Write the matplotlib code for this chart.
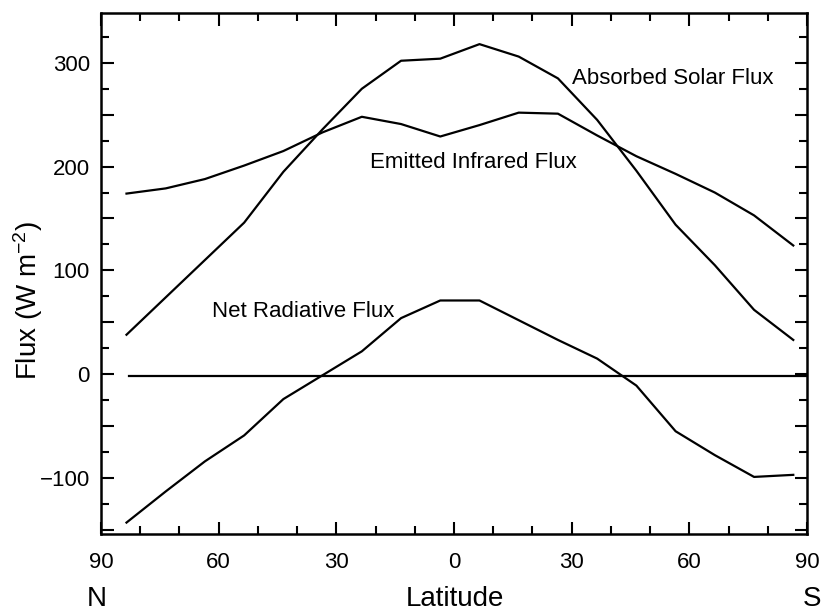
import matplotlib
matplotlib.use('Agg')
import matplotlib.pyplot as plt
from matplotlib.ticker import MultipleLocator, FuncFormatter

plt.rcParams['font.family'] = ['Liberation Sans', 'DejaVu Sans']
plt.rcParams['mathtext.fontset'] = 'custom'
plt.rcParams['mathtext.rm'] = 'Liberation Sans'
plt.rcParams['mathtext.it'] = 'Liberation Sans'

# latitude of the zonal bands (negative = north, as drawn left to right N -> S)
lat = [-83.5, -73.5, -63.5, -53.5, -43.5, -33.5, -23.5, -13.5, -3.5,
       6.5, 16.5, 26.5, 36.5, 46.5, 56.5, 66.5, 76.5, 86.5]
solar = [38, 74, 110, 146, 195, 236, 275, 302, 304,
         318, 306, 285, 245, 196, 144, 105, 62, 33]
infrared = [174, 179, 188, 201, 215, 233, 248, 241, 229,
            240, 252, 251, 230, 210, 193, 175, 153, 124]
net = [-143, -113, -84, -59, -24, -1, 22, 54, 71,
       71, 52, 33, 15, -11, -55, -78, -99, -97]
zero_lat = [-82.8, 90]
zero_val = [-2, -2]

xticks = [-90, -60, -30, 0, 30, 60, 90]

fig = plt.figure(figsize=(8.24, 6.12), dpi=100)
ax = fig.add_axes([101/824, 1-534/612, 706/824, 521/612])

ax.plot(lat, solar, color='black', lw=1.6)
ax.plot(lat, infrared, color='black', lw=1.6)
ax.plot(lat, net, color='black', lw=1.6)
ax.plot(zero_lat, zero_val, color='black', lw=1.6)

ax.set_xlim(-90, 90)
ax.set_ylim(-154, 348)

ax.set_xticks(xticks)
ax.set_xticklabels([str(abs(v)) for v in xticks])
ax.xaxis.set_minor_locator(MultipleLocator(10))
ax.yaxis.set_major_locator(MultipleLocator(50))
ax.yaxis.set_minor_locator(MultipleLocator(25))
ax.yaxis.set_major_formatter(FuncFormatter(
    lambda v, p: ('%d' % v).replace('-', '\u2212') if v % 100 == 0 else ''))

ax.tick_params(which='both', direction='in', top=True, right=True,
               width=1.5, labelsize=16)
ax.tick_params(which='major', length=9)
ax.tick_params(which='minor', length=6)
ax.tick_params(axis='x', pad=13)
ax.tick_params(axis='y', pad=8)
for s in ax.spines.values():
    s.set_linewidth(1.8)

ax.text(30, 280, 'Absorbed Solar Flux', fontsize=16, va='baseline')
ax.text(-21.4, 198.6, 'Emitted Infrared Flux', fontsize=16, va='baseline')
ax.text(-61.7, 55.5, 'Net Radiative Flux', fontsize=16, va='baseline')

fig.text(455/824, 1-606/612, 'Latitude', fontsize=20, ha='center', va='baseline')
fig.text(97/824, 1-606/612, 'N', fontsize=20, ha='center', va='baseline')
fig.text(812/824, 1-606/612, 'S', fontsize=20, ha='center', va='baseline')
fig.text(28/824, 1-300/612, 'Flux (W m$^{\u2212 2}$)', fontsize=20,
         rotation=90, ha='center', va='center')

plt.savefig('out.png', dpi=100)
